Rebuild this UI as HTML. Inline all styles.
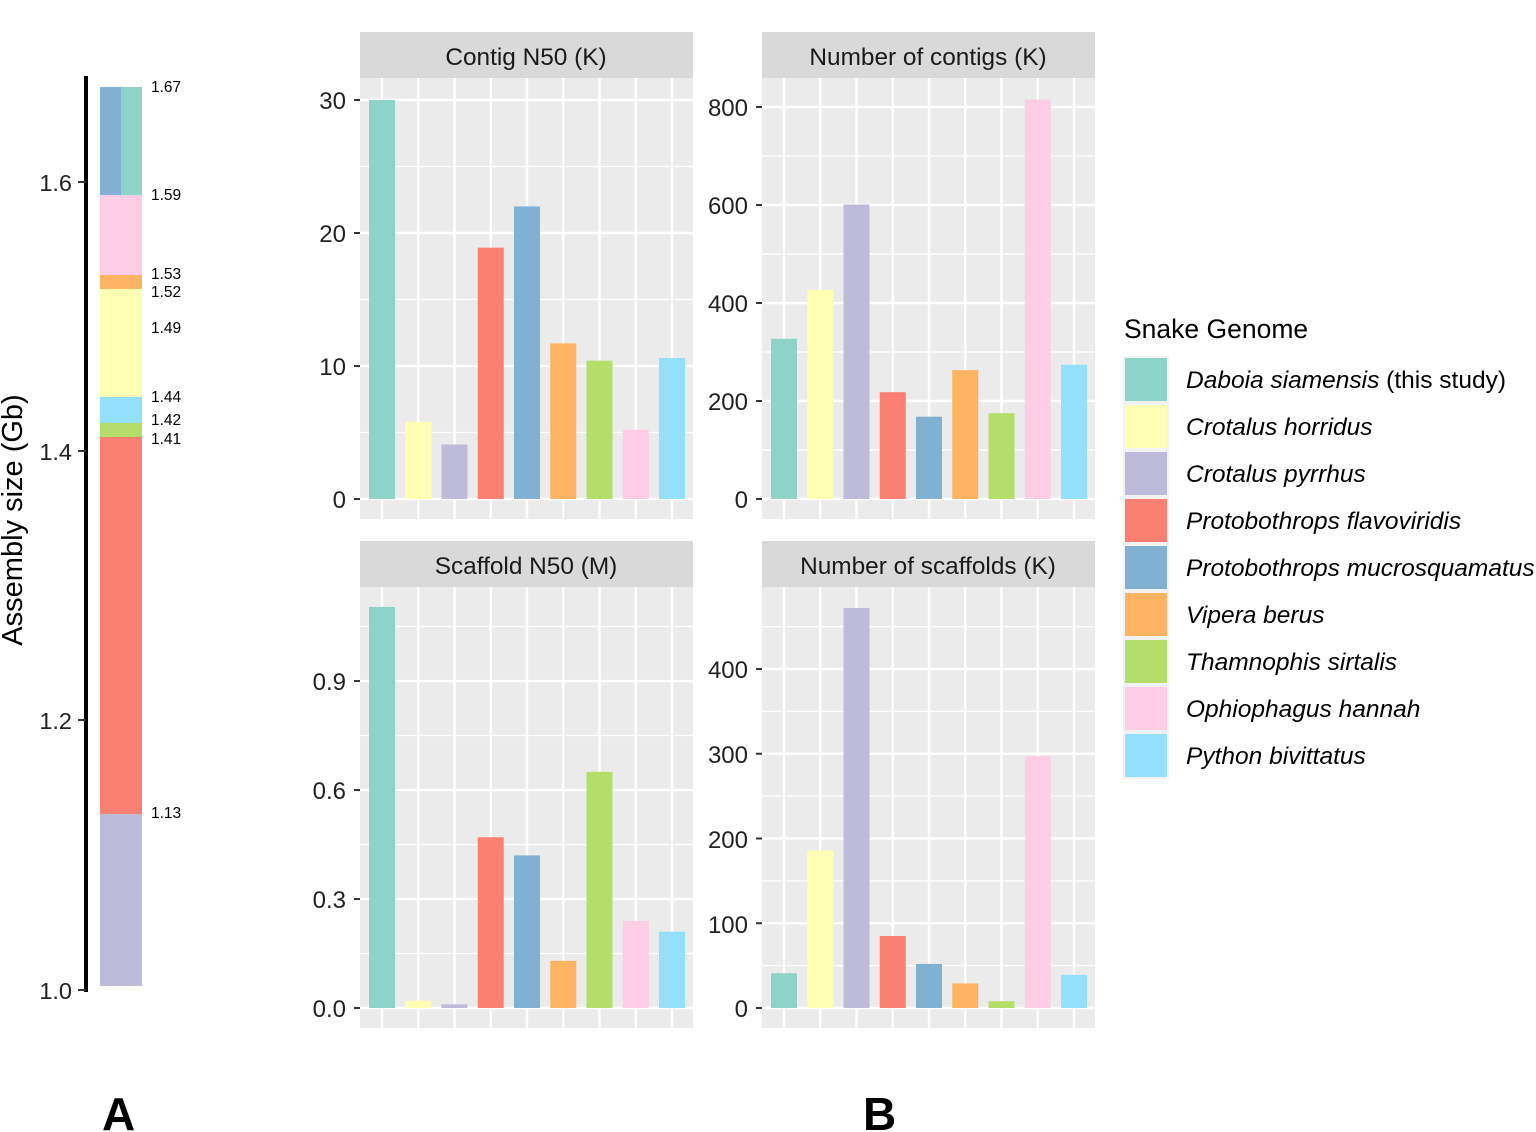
<!DOCTYPE html>
<html><head><meta charset="utf-8"><style>
html,body{margin:0;padding:0;background:#fff}
svg{display:block;font-family:"Liberation Sans",Arial,sans-serif}
</style></head><body>
<svg id="s" width="1536" height="1132" viewBox="0 0 1536 1132" xmlns="http://www.w3.org/2000/svg">
<g id="g"></g>
<!-- Panel A -->
<line x1="86" y1="76" x2="86" y2="992" stroke="#000" stroke-width="4"/>
<g stroke="#333" stroke-width="2">
<line x1="78" y1="990" x2="86" y2="990"/><line x1="78" y1="720" x2="86" y2="720"/>
<line x1="78" y1="451" x2="86" y2="451"/><line x1="78" y1="182" x2="86" y2="182"/>
</g>
<g font-size="23.5" fill="#222" text-anchor="end">
<text x="72" y="999">1.0</text><text x="72" y="729">1.2</text>
<text x="72" y="460">1.4</text><text x="72" y="191">1.6</text>
</g>
<text transform="translate(22,520) rotate(-90)" font-size="29" text-anchor="middle" fill="#000">Assembly size (Gb)</text>
<rect x="100" y="814" width="42" height="172" fill="#BEBADA"/>
<rect x="100" y="437" width="42" height="377" fill="#FB8072"/>
<rect x="100" y="423" width="42" height="14" fill="#B3DE69"/>
<rect x="100" y="397" width="42" height="26" fill="#92E0FB"/>
<rect x="100" y="289" width="42" height="108" fill="#FFFFB3"/>
<rect x="100" y="275" width="42" height="14" fill="#FDB462"/>
<rect x="100" y="195" width="42" height="80" fill="#FCCDE5"/>
<rect x="100" y="87" width="21" height="108" fill="#80B1D3"/>
<rect x="121" y="87" width="21" height="108" fill="#8DD3C7"/>
<g font-size="15.5" fill="#000">
<text x="151" y="92">1.67</text><text x="151" y="200">1.59</text>
<text x="151" y="279">1.53</text><text x="151" y="297">1.52</text>
<text x="151" y="333">1.49</text><text x="151" y="402">1.44</text>
<text x="151" y="425">1.42</text><text x="151" y="444">1.41</text>
<text x="151" y="818">1.13</text>
</g>
<!-- strips -->
<g font-size="24.4" fill="#1a1a1a" text-anchor="middle">
<text x="526" y="65">Contig N50 (K)</text>
<text x="928" y="65">Number of contigs (K)</text>
<text x="526" y="574">Scaffold N50 (M)</text>
<text x="928" y="574">Number of scaffolds (K)</text>
</g>
<g font-size="24" fill="#222" text-anchor="end">
<text x="346" y="109">30</text><text x="346" y="242">20</text><text x="346" y="375">10</text><text x="346" y="508">0</text>
<text x="748" y="116">800</text><text x="748" y="214">600</text><text x="748" y="312">400</text><text x="748" y="410">200</text><text x="748" y="508">0</text>
<text x="346" y="690">0.9</text><text x="346" y="799">0.6</text><text x="346" y="908">0.3</text><text x="346" y="1017">0.0</text>
<text x="748" y="678">400</text><text x="748" y="763">300</text><text x="748" y="848">200</text><text x="748" y="933">100</text><text x="748" y="1017">0</text>
</g>
<!-- legend -->
<text x="1124" y="338" font-size="26.5" fill="#000">Snake Genome</text>
<g font-size="24.5" fill="#000" font-style="italic">
<text x="1186" y="388">Daboia siamensis<tspan font-style="normal"> (this study)</tspan></text>
<text x="1186" y="435">Crotalus horridus</text>
<text x="1186" y="482">Crotalus pyrrhus</text>
<text x="1186" y="529">Protobothrops flavoviridis</text>
<text x="1186" y="576">Protobothrops mucrosquamatus</text>
<text x="1186" y="623">Vipera berus</text>
<text x="1186" y="670">Thamnophis sirtalis</text>
<text x="1186" y="717">Ophiophagus hannah</text>
<text x="1186" y="764">Python bivittatus</text>
</g>
<text x="102" y="1130" font-size="46" font-weight="bold" fill="#000">A</text>
<text x="863" y="1130" font-size="46" font-weight="bold" fill="#000">B</text>
</svg>
<script>
(function(){
var NS="http://www.w3.org/2000/svg",g=document.getElementById("g");
function el(t,a){var e=document.createElementNS(NS,t);for(var k in a)e.setAttribute(k,a[k]);g.appendChild(e);return e;}
var C=["#8DD3C7","#FFFFB3","#BEBADA","#FB8072","#80B1D3","#FDB462","#B3DE69","#FCCDE5","#92E0FB"];
function panel(x0,sy,zero,ppu,majors,minors,vals){
 var pt=sy+46,pb=pt+441;
 el("rect",{x:x0,y:sy,width:333,height:46,fill:"#D9D9D9"});
 el("rect",{x:x0,y:pt,width:333,height:441,fill:"#EBEBEB"});
 minors.forEach(function(v){var y=zero-v*ppu;el("line",{x1:x0,x2:x0+333,y1:y,y2:y,stroke:"#fff","stroke-width":1.2});});
 majors.forEach(function(v){var y=zero-v*ppu;el("line",{x1:x0,x2:x0+333,y1:y,y2:y,stroke:"#fff","stroke-width":2.4});
   el("line",{x1:x0-6,x2:x0,y1:y,y2:y,stroke:"#333","stroke-width":2});});
 for(var i=0;i<9;i++){var cx=x0+22+i*36.25;
   el("line",{x1:cx,x2:cx,y1:pt,y2:pb,stroke:"#fff","stroke-width":2.4});}
 for(var i=0;i<9;i++){var cx=x0+22+i*36.25,h=vals[i]*ppu;
   el("rect",{x:cx-13,y:zero-h,width:26,height:h,fill:C[i]});}
}
panel(360,32,499,13.3,[0,10,20,30],[5,15,25],[30,5.8,4.1,18.9,22,11.7,10.4,5.2,10.6]);
panel(762,32,499,0.49,[0,200,400,600,800],[100,300,500,700],[327,427,601,218,168,263,175,815,274]);
panel(360,541,1008,363.3,[0,0.3,0.6,0.9],[0.15,0.45,0.75,1.05],[1.104,0.02,0.01,0.47,0.42,0.13,0.65,0.24,0.21]);
panel(762,541,1008,0.8475,[0,100,200,300,400],[50,150,250,350,450],[41,186,472,85,52,29,8,297,39]);
for(var i=0;i<9;i++){var y=356+i*47;
 el("rect",{x:1123,y:y,width:46,height:47,fill:"#F2F2F2"});
 el("rect",{x:1125,y:y+2,width:42,height:43,fill:C[i]});}
})();
</script>
</body></html>
